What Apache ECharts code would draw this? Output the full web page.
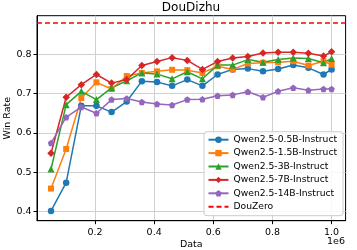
<!DOCTYPE html>
<html>
<head>
<meta charset="utf-8">
<script src="https://cdn.jsdelivr.net/npm/echarts@6/dist/echarts.min.js"></script>
<style>html,body{margin:0;padding:0;background:#fff}#c{width:357px;height:250px}</style>
</head>
<body>
<div id="c"></div>
<script>
const dataSizes = [51200, 102400, 153600, 204800, 256000, 307200, 358400, 409600, 460800, 512000,
                   563200, 614400, 665600, 716800, 768000, 819200, 870400, 921600, 972800, 1000000];
const qwen05 = [0.401, 0.473, 0.669, 0.669, 0.653, 0.680, 0.732, 0.730, 0.720, 0.736,
                0.720, 0.749, 0.762, 0.764, 0.757, 0.763, 0.773, 0.766, 0.749, 0.762];
const qwen15 = [0.458, 0.559, 0.689, 0.729, 0.712, 0.745, 0.753, 0.757, 0.761, 0.760,
                0.753, 0.770, 0.762, 0.777, 0.779, 0.780, 0.783, 0.772, 0.783, 0.774];
const qwen3  = [0.508, 0.672, 0.706, 0.685, 0.715, 0.733, 0.753, 0.750, 0.738, 0.756,
                0.738, 0.773, 0.773, 0.787, 0.780, 0.787, 0.791, 0.790, 0.779, 0.790];
const qwen7  = [0.548, 0.691, 0.723, 0.749, 0.727, 0.736, 0.772, 0.782, 0.792, 0.785,
                0.762, 0.782, 0.791, 0.795, 0.804, 0.806, 0.806, 0.803, 0.796, 0.807];
const qwen14 = [0.574, 0.640, 0.666, 0.650, 0.685, 0.688, 0.679, 0.674, 0.671, 0.685,
                0.686, 0.695, 0.697, 0.705, 0.691, 0.706, 0.715, 0.709, 0.712, 0.712];
const douZero = 0.876;
const seriesNames = ['Qwen2.5-0.5B-Instruct', 'Qwen2.5-1.5B-Instruct', 'Qwen2.5-3B-Instruct',
                     'Qwen2.5-7B-Instruct', 'Qwen2.5-14B-Instruct', 'DouZero'];

const FONT = 'DejaVu Sans';
const colors = ['#1f77b4', '#ff7f0e', '#2ca02c', '#d62728', '#9467bd'];
const symbols = ['circle', 'rect', 'triangle',
  'path://M0,-1 L1,0 L0,1 L-1,0 Z',
  'path://M0,-1 L0.951,-0.309 L0.588,0.809 L-0.588,0.809 L-0.951,-0.309 Z'];
const sizes = [6.5, 6, 7, 7.5, 6.5];
const values = [qwen05, qwen15, qwen3, qwen7, qwen14];

const series = values.map((vals, i) => ({
  name: seriesNames[i],
  type: 'line',
  data: dataSizes.map((x, j) => [x, vals[j]]),
  symbol: symbols[i],
  symbolSize: sizes[i],
  showAllSymbol: true,
  color: colors[i],
  lineStyle: {width: 1.5, color: colors[i]},
  itemStyle: {color: colors[i]},
  animation: false
}));
series.push({
  name: seriesNames[5],
  type: 'line',
  data: [],
  symbol: 'none',
  color: '#ff0000',
  lineStyle: {width: 1.5, color: '#ff0000', type: [5, 3]},
  markLine: {
    silent: true,
    symbol: 'none',
    label: {show: false},
    lineStyle: {width: 1.5, color: '#ff0000', type: [5, 3]},
    data: [{yAxis: douZero}],
    animation: false
  },
  animation: false
});

const legendData = seriesNames.map((n, i) => i === 5 ? {name: n, itemStyle: {opacity: 0}} : {name: n});

const chart = echarts.init(document.getElementById('c'), null, {renderer: 'canvas'});
chart.setOption({
  animation: false,
  backgroundColor: '#fff',
  textStyle: {fontFamily: FONT},
  title: {
    text: 'DouDizhu', left: 191, top: 2, padding: 0, textAlign: 'center',
    textStyle: {fontFamily: FONT, fontSize: 12, fontWeight: 'normal', color: '#000'}
  },
  grid: {left: 37, right: 11.4, top: 15.7, bottom: 29.3, show: true,
         borderColor: '#000', borderWidth: 1, backgroundColor: 'transparent',
         containLabel: false, outerBoundsMode: 'none'},
  legend: {
    orient: 'vertical', left: 204, top: 131.7,
    padding: [3, 6, 4, 3.5],
    itemWidth: 20, itemHeight: 8, itemGap: 3.4,
    backgroundColor: 'rgba(255,255,255,0.85)', borderColor: '#cccccc', borderWidth: 1, borderRadius: 3,
    textStyle: {fontFamily: FONT, fontSize: 9.2, lineHeight: 10, color: '#000'},
    data: legendData
  },
  xAxis: {
    type: 'value', min: 3760, max: 1047440, splitNumber: 5,
    name: 'Data', nameLocation: 'middle', nameGap: 19, nameMoveOverlap: false,
    nameTextStyle: {fontFamily: FONT, fontSize: 9.5, color: '#000'},
    axisLine: {show: true, onZero: false, lineStyle: {color: '#000', width: 1}},
    axisTick: {show: true, length: 3.5, lineStyle: {color: '#000'}},
    axisLabel: {fontFamily: FONT, fontSize: 9.5, color: '#000', margin: 7,
      showMinLabel: false, showMaxLabel: false,
      formatter: v => (v / 1e6).toFixed(1)},
    splitLine: {show: true, showMinLine: false, showMaxLine: false, lineStyle: {color: '#d0d0d0', width: 1}}
  },
  yAxis: {
    type: 'value', min: 0.376, max: 0.899, splitNumber: 5,
    name: 'Win Rate', nameLocation: 'middle', nameGap: 24, nameMoveOverlap: false,
    nameTextStyle: {fontFamily: FONT, fontSize: 9.5, color: '#000'},
    axisLine: {show: true, onZero: false, lineStyle: {color: '#000', width: 1}},
    axisTick: {show: true, length: 3.5, lineStyle: {color: '#000'}},
    axisLabel: {fontFamily: FONT, fontSize: 9.5, color: '#000', margin: 5.5,
      showMinLabel: false, showMaxLabel: false,
      formatter: v => v.toFixed(1)},
    splitLine: {show: true, showMinLine: false, showMaxLine: false, lineStyle: {color: '#d0d0d0', width: 1}}
  },
  graphic: [{
    type: 'text', right: 12, top: 237,
    style: {text: '1e6', fontFamily: FONT, fontSize: 9.5, fill: '#000'}
  }],
  series: series
});
</script>
</body>
</html>
